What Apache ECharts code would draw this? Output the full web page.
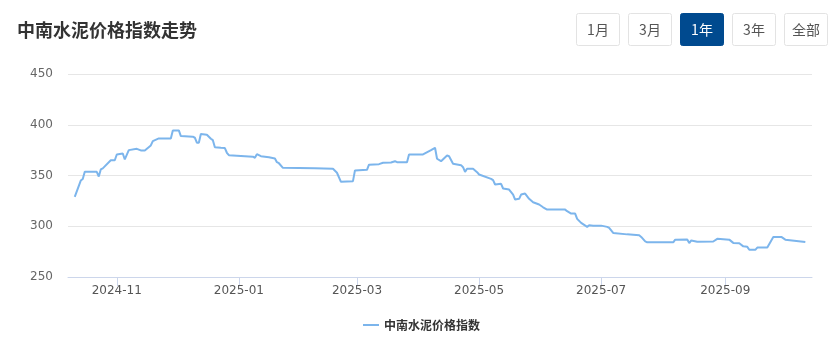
<!DOCTYPE html>
<html>
<head>
<meta charset="utf-8">
<script src="https://cdn.jsdelivr.net/npm/echarts@6/dist/echarts.min.js"></script>
<style>
html,body{margin:0;padding:0;background:#fff;}
#chart{width:835px;height:345px;}
</style>
</head>
<body>
<div id="chart"></div>
<script>
const seriesName = '中南水泥价格指数';
const titleText = '中南水泥价格指数走势';
const buttonLabels = ['1月', '3月', '1年', '3年', '全部'];
const activeButton = '1年';
const yTicks = [250, 300, 350, 400, 450];
const xTickDates = ['2024-11-01', '2025-01-01', '2025-03-01', '2025-05-01', '2025-07-01', '2025-09-01'];

const dates = [
 '2024-10-11','2024-10-14','2024-10-15','2024-10-16','2024-10-22','2024-10-23','2024-10-24','2024-10-25','2024-10-29','2024-10-31',
 '2024-11-01','2024-11-04','2024-11-05','2024-11-07','2024-11-11','2024-11-13','2024-11-15','2024-11-18','2024-11-19','2024-11-22',
 '2024-11-28','2024-11-29','2024-12-02','2024-12-03','2024-12-09','2024-12-10','2024-12-11','2024-12-12','2024-12-13','2024-12-16',
 '2024-12-18','2024-12-19','2024-12-20','2024-12-23','2024-12-25','2024-12-26','2024-12-27','2025-01-08','2025-01-09','2025-01-10',
 '2025-01-12','2025-01-16','2025-01-19','2025-01-20','2025-01-21','2025-01-23','2025-02-08','2025-02-17','2025-02-19','2025-02-21',
 '2025-02-27','2025-02-28','2025-03-06','2025-03-07','2025-03-12','2025-03-14','2025-03-18','2025-03-20','2025-03-21','2025-03-26',
 '2025-03-27','2025-04-03','2025-04-07','2025-04-09','2025-04-10','2025-04-12','2025-04-15','2025-04-16','2025-04-18','2025-04-22',
 '2025-04-23','2025-04-24','2025-04-25','2025-04-28','2025-04-30','2025-05-01','2025-05-07','2025-05-08','2025-05-09','2025-05-12',
 '2025-05-13','2025-05-16','2025-05-18','2025-05-19','2025-05-21','2025-05-22','2025-05-24','2025-05-26','2025-05-28','2025-05-31',
 '2025-06-02','2025-06-04','2025-06-13','2025-06-14','2025-06-16','2025-06-18','2025-06-19','2025-06-21','2025-06-24','2025-06-25',
 '2025-06-27','2025-07-01','2025-07-04','2025-07-05','2025-07-07','2025-07-14','2025-07-20','2025-07-21','2025-07-23','2025-07-24',
 '2025-08-06','2025-08-07','2025-08-13','2025-08-14','2025-08-15','2025-08-18','2025-08-26','2025-08-28','2025-09-03','2025-09-05',
 '2025-09-08','2025-09-10','2025-09-12','2025-09-13','2025-09-16','2025-09-17','2025-09-22','2025-09-24','2025-09-25','2025-09-29',
 '2025-10-01','2025-10-11'
];
const values = [
 329.0,345.0,346.5,353.6,353.6,349.0,356.0,357.0,365.0,365.0,
 370.7,371.7,365.8,375.0,376.3,374.7,374.7,379.6,383.9,386.5,
 386.5,394.4,394.4,388.8,388.2,387.2,382.3,382.3,390.8,390.2,
 386.2,384.8,377.9,377.3,377.0,372.4,370.0,368.5,367.5,371.0,
 369.0,368.0,366.8,363.1,362.1,357.6,357.2,356.6,352.7,343.8,
 344.4,355.0,355.6,360.6,361.2,362.5,362.8,364.1,363.1,363.1,
 370.7,370.7,375.0,377.3,366.5,364.1,369.7,369.0,361.5,360.2,
 358.2,353.6,356.6,356.6,353.3,351.0,346.7,345.4,341.1,341.8,
 337.2,336.2,331.2,326.3,327.0,331.2,332.2,327.0,323.6,321.4,
 318.7,316.4,316.4,314.8,312.5,312.5,307.3,303.3,299.4,301.0,
 300.6,300.6,299.4,298.4,293.4,292.0,291.1,289.5,285.1,284.2,
 284.2,286.8,287.0,283.4,286.0,284.8,285.0,287.6,286.8,283.6,
 283.2,280.2,279.7,276.8,276.8,279.0,279.0,286.0,289.3,289.5,
 286.8,284.5
];

function ts(s) { return echarts.time.parse(s).getTime(); }
const lineData = dates.map((d, i) => [ts(d), values[i]]);
const xTickVals = xTickDates.map(ts);

const chart = echarts.init(document.getElementById('chart'), null, {renderer: 'canvas'});

const btnX0 = 576, btnW = 43, btnH = 32, btnGap = 52, btnY = 13;
const buttons = buttonLabels.map((lab, i) => {
  const active = lab === activeButton;
  return {
    type: 'group',
    x: btnX0 + i * btnGap,
    y: btnY,
    children: [
      {type: 'rect', shape: {x: 0.5, y: 0.5, width: btnW, height: btnH, r: 2},
       style: {fill: active ? '#004a8f' : '#ffffff', stroke: active ? '#004a8f' : '#e3e3e3', lineWidth: 1}},
      {type: 'text', x: btnW / 2 + 0.5, y: btnH / 2 + 0.5,
       style: {text: lab, fill: active ? '#ffffff' : '#555555', font: '14px "Noto Sans CJK SC", sans-serif',
               align: 'center', verticalAlign: 'middle'}}
    ]
  };
});

function fmtMonth(v) {
  const d = new Date(v);
  const m = d.getMonth() + 1;
  return d.getFullYear() + '-' + (m < 10 ? '0' + m : m);
}

chart.setOption({
  animation: false,
  backgroundColor: '#ffffff',
  title: {
    text: titleText,
    left: 12,
    top: 16,
    textStyle: {fontSize: 18, fontWeight: 'bold', color: '#333333', fontFamily: '"Noto Sans CJK SC", sans-serif'}
  },
  graphic: buttons,
  legend: {
    left: 358,
    top: 314,
    icon: 'rect',
    itemWidth: 16,
    itemHeight: 2,
    textStyle: {fontSize: 12, fontWeight: 'bold', color: '#333333', fontFamily: '"Noto Sans CJK SC", sans-serif'},
    data: [seriesName]
  },
  grid: {left: 68, right: 23, top: 74, bottom: 68, containLabel: false},
  xAxis: {
    type: 'value',
    min: ts('2024-10-07 15:00'),
    max: ts('2025-10-14 08:00'),
    axisLine: {show: true, lineStyle: {color: '#ccd6eb', width: 1}},
    axisTick: {show: true, customValues: xTickVals, length: 9, lineStyle: {color: '#ccd6eb'}},
    axisLabel: {customValues: xTickVals, formatter: fmtMonth, color: '#555555', fontSize: 12, margin: 8,
                fontFamily: '"DejaVu Sans", sans-serif'},
    splitLine: {show: false}
  },
  yAxis: {
    type: 'value',
    min: yTicks[0],
    max: yTicks[yTicks.length - 1],
    interval: 50,
    axisLine: {show: false},
    axisTick: {show: false},
    axisLabel: {color: '#666666', fontSize: 12, margin: 15, fontFamily: '"DejaVu Sans", sans-serif'},
    splitLine: {show: true, lineStyle: {color: '#e6e6e6', width: 1}}
  },
  series: [{
    name: seriesName,
    type: 'line',
    data: lineData,
    showSymbol: false,
    symbol: 'none',
    lineStyle: {color: '#7cb5ec', width: 2},
    itemStyle: {color: '#7cb5ec'}
  }]
});
</script>
</body>
</html>
